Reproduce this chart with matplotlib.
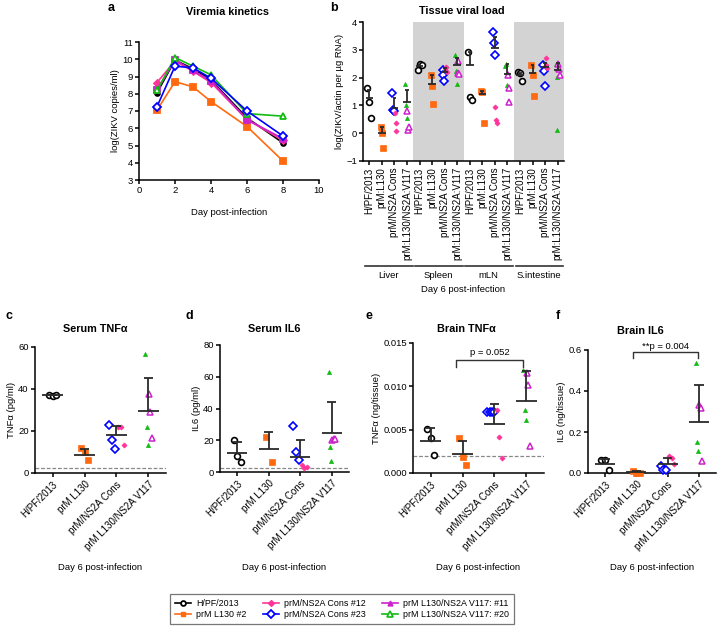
import matplotlib
matplotlib.use('Agg')
import matplotlib.pyplot as plt
import numpy as np
from matplotlib.lines import Line2D
from matplotlib.transforms import blended_transform_factory

plt.rcParams['font.family'] = ['Liberation Sans', 'DejaVu Sans']

W, H = 717, 632

# ---- panel a: viremia kinetics ----
days = [1, 2, 3, 4, 6, 8]
a_hpf = [8.05, 9.95, 9.45, 8.8, 6.6, 5.15]
a_l130 = [7.05, 8.7, 8.4, 7.55, 6.1, 4.1]
a_cons12 = [8.65, 9.9, 9.3, 8.65, 6.5, 5.3]
a_cons23 = [7.25, 9.6, 9.5, 8.9, 7.0, 5.55]
a_v11 = [8.2, 9.95, 9.35, 8.75, 6.5, 5.4]
a_v20 = [8.2, 10.1, 9.6, 9.1, 6.85, 6.7]

# ---- panel b: tissue viral load (Liver, Spleen, mLN, S.intestine) ----
tissues = ['Liver', 'Spleen', 'mLN', 'S.intestine']
b_groups = ['H/PF/2013', 'prM:L130', 'prM/NS2A Cons', 'prM:L130/NS2A:V117']
b_hpf = [[1.61, 1.12, 0.53], [2.29, 2.5, 2.45], [2.93, 1.29, 1.2], [2.21, 2.17, 1.87]]
b_l130 = [[0.22, 0.0, -0.53], [2.09, 1.69, 1.06], [1.53, 1.49, 0.35], [2.45, 2.11, 1.33]]
b_cons12 = [[0.71, 0.35, 0.08], [2.33, 2.37, 2.2], [0.95, 0.48, 0.35], [2.71, 2.47, 2.35]]
b_cons23 = [[1.45, 0.85, 0.79], [2.29, 2.11, 1.89], [3.65, 3.25, 2.81], [2.47, 2.23, 1.71]]
b_v11 = [[0.79, 0.13, 0.23], [2.59, 2.17, 2.13], [2.09, 1.61, 1.13], [2.5, 2.31, 2.11]]
b_v20 = [[1.77, 1.0, 0.55], [2.81, 2.25, 1.77], [2.41, 2.5, 1.75], [2.5, 2.01, 0.1]]
b_mean = [1.26, 0.0, 0.91, 1.13, 2.41, 1.77, 2.21, 2.45,
          2.45, 1.41, 3.07, 2.13, 2.08, 2.17, 2.37, 2.29]
b_sem = [0.3, 0.22, 0.36, 0.43, 0.05, 0.33, 0.14, 0.26,
         0.48, 0.1, 0.38, 0.36, 0.1, 0.28, 0.17, 0.22]

# ---- panels c-f: cytokines ----
groups = ['H/PF/2013', 'prM L130', 'prM/NS2A Cons', 'prM L130/NS2A V117']

c_hpf = [37.2, 36.9, 37.0]
c_l130 = [11.9, 9.8, 6.0]
c_cons12 = [21.9, 21.9, 13.5]
c_cons23 = [22.9, 15.9, 11.4]
c_v11 = [37.8, 28.9, 16.7]
c_v20 = [56.8, 21.9, 13.5]
c_mean = [37.0, 8.7, 17.9, 29.4]
c_sem = [0.3, 2.7, 4.6, 15.9]
c_lod = 2.2

d_hpf = [19.9, 10.3, 6.3]
d_l130 = [22.0, 6.3]
d_cons12 = [4.6, 2.5, 3.1]
d_cons23 = [28.9, 12.4, 7.5]
d_v11 = [19.9, 20.9, 20.5]
d_v20 = [63.2, 15.7, 7.1]
d_mean = [11.9, 14.4, 9.6, 24.5]
d_sem = [6.7, 11.0, 10.3, 19.9]
d_lod = 2.5

e_hpf = [0.0051, 0.0040, 0.0021]
e_l130 = [0.0040, 0.0019, 0.0009]
e_cons12 = [0.0073, 0.0041, 0.0017]
e_cons23 = [0.0070, 0.0070, 0.0070, 0.0070]
e_v11 = [0.0115, 0.0101, 0.0031]
e_v20 = [0.0119, 0.0073, 0.0061]
e_mean = [0.0037, 0.0022, 0.0057, 0.0083]
e_sem = [0.0015, 0.0015, 0.0023, 0.0035]
e_lod = 0.0020

f_hpf = [0.062, 0.062, 0.016]
f_l130 = [0.008, 0.0, 0.0]
f_cons12 = [0.081, 0.073, 0.045]
f_cons23 = [0.032, 0.016, 0.013]
f_v11 = [0.332, 0.316, 0.057]
f_v20 = [0.535, 0.149, 0.105]
f_mean = [0.045, 0.005, 0.045, 0.251]
f_sem = [0.023, 0.003, 0.027, 0.18]
f_lod = 0.002

legend_labels = ['H/PF/2013', 'prM L130 #2', 'prM/NS2A Cons #12',
                 'prM/NS2A Cons #23', 'prM L130/NS2A V117: #11', 'prM L130/NS2A V117: #20']

BLACK, ORANGE, PINK, BLUE, MAGENTA, GREEN = 'black', '#FF6A10', '#FF3399', '#0000FF', '#CC22CC', '#11BB11'
BAR = '#2a2a2a'

# scatter styles per strain
S_HPF = dict(marker='o', mfc='white', mec=BLACK, ms=4.2, mew=1.2)
S_L130 = dict(marker='s', mfc=ORANGE, mec=ORANGE, ms=3.8, mew=0.5)
S_C12 = dict(marker='D', mfc=PINK, mec=PINK, ms=2.6, mew=0.5)
S_C23 = dict(marker='D', mfc='white', mec=BLUE, ms=4.0, mew=1.2)
S_V11 = dict(marker='^', mfc='white', mec=MAGENTA, ms=5.0, mew=1.1)
S_V20 = dict(marker='^', mfc=GREEN, mec=GREEN, ms=3.0, mew=0.5)

fig = plt.figure(figsize=(W / 100, H / 100), dpi=100)


def add_ax(left, top, right, bottom):
    return fig.add_axes([left / W, 1 - bottom / H, (right - left) / W, (bottom - top) / H])


def style(ax):
    for s in ['top', 'right']:
        ax.spines[s].set_visible(False)
    for s in ['left', 'bottom']:
        ax.spines[s].set_linewidth(1.1)
    ax.tick_params(width=1.1, length=3, labelsize=6.8, pad=1.5)


def dots(ax, x, sets, spread=0.18):
    pts = [(v, st) for vals, st in sets for v in vals]
    offs = np.linspace(-spread, spread, len(pts)) if len(pts) > 1 else [0]
    for o, (v, st) in zip(offs, pts):
        ax.plot(x + o, v, linestyle='none', clip_on=False, zorder=3, **st)


def mean_bar(ax, x, m, s, half=0.32, cap=0.15):
    ax.hlines(m, x - half, x + half, color=BAR, lw=1.3, zorder=4)
    ax.vlines(x, m, m + s, color=BAR, lw=1.3, zorder=4)
    ax.hlines(m + s, x - cap, x + cap, color=BAR, lw=1.3, zorder=4)


def panel_letter(x, y, s):
    fig.text(x / W, 1 - y / H, s, fontsize=9, fontweight='bold', ha='left', va='center')


def title(x, y, s):
    fig.text(x / W, 1 - y / H, s, fontsize=7.8, fontweight='bold', ha='center', va='center')


# ---------------- panel a ----------------
ax = add_ax(139, 42, 319, 180)
style(ax)
for ys, c, m, mfc, ms in [(a_hpf, BLACK, 'o', BLACK, 3.5), (a_l130, ORANGE, 's', ORANGE, 4.2),
                          (a_cons12, PINK, 'D', PINK, 3.5), (a_v11, MAGENTA, 's', MAGENTA, 3.8),
                          (a_v20, GREEN, '^', 'white', 5), (a_cons23, BLUE, 'D', 'white', 4.5)]:
    ax.plot(days, ys, color=c, marker=m, mfc=mfc, mec=c, ms=ms, mew=1.3, lw=1.2)
ax.set_xlim(0, 10)
ax.set_ylim(3, 11)
ax.set_xticks([0, 2, 4, 6, 8, 10])
ax.set_yticks(range(3, 12))
ax.set_ylabel('log(ZIKV copies/ml)', fontsize=6.8, labelpad=1.5)
ax.set_xlabel('Day post-infection', fontsize=6.8, labelpad=9)
panel_letter(108, 8, 'a')
title(228, 12, 'Viremia kinetics')

# ---------------- panel b ----------------
ax = add_ax(363, 22, 564, 161)
style(ax)
ax.set_xlim(-0.5, 15.5)
ax.set_ylim(-1, 4)
for g in (1, 3):
    ax.axvspan(4 * g - 0.5, 4 * g + 3.5, color='#d3d3d3', lw=0, zorder=0)
for t in range(4):
    base = 4 * t
    dots(ax, base + 0, [(b_hpf[t], S_HPF)], 0.16)
    dots(ax, base + 1, [(b_l130[t], S_L130)], 0.1)
    dots(ax, base + 2, [(b_cons23[t], S_C23), (b_cons12[t], S_C12)], 0.16)
    dots(ax, base + 3, [(b_v20[t], S_V20), (b_v11[t], S_V11)], 0.16)
for i in range(16):
    mean_bar(ax, i, b_mean[i], b_sem[i], half=0.3, cap=0.15)
ax.set_xticks(range(16))
ax.set_xticklabels(b_groups * 4, rotation=90, fontsize=7)
ax.set_yticks(range(-1, 5))
ax.set_ylabel('log(ZIKV/actin per \u00b5g RNA)', fontsize=6.8, labelpad=1.5)
tr = blended_transform_factory(ax.transData, fig.transFigure)
for t, name in enumerate(tissues):
    ax.plot([4 * t - 0.35, 4 * t + 3.45], [1 - 266 / H] * 2, color='#333333', lw=1.2,
            transform=tr, clip_on=False)
    ax.text(4 * t + 1.5, 1 - 276 / H, name, transform=tr, ha='center', va='center', fontsize=6.8)
ax.text(7.5, 1 - 290 / H, 'Day 6 post-infection', transform=tr, ha='center', va='center', fontsize=6.8)
panel_letter(330, 8, 'b')
title(462, 11, 'Tissue viral load')

# ---------------- panels c-f ----------------
cyto = [
    ('c', 'Serum TNF\u03b1', 'TNF\u03b1 (pg/ml)', (35, 347, 166, 473), (0, 60), [0, 20, 40, 60],
     c_hpf, c_l130, c_cons12, c_cons23, c_v11, c_v20, c_mean, c_sem, c_lod, 6, 95, 329),
    ('d', 'Serum IL6', 'IL6 (pg/ml)', (220, 345, 349, 472), (0, 80), [0, 20, 40, 60, 80],
     d_hpf, d_l130, d_cons12, d_cons23, d_v11, d_v20, d_mean, d_sem, d_lod, 186, 274, 329),
    ('e', 'Brain TNF\u03b1', 'TNF\u03b1 (ng/tissue)', (413, 343, 544, 473), (0, 0.015),
     [0, 0.005, 0.010, 0.015],
     e_hpf, e_l130, e_cons12, e_cons23, e_v11, e_v20, e_mean, e_sem, e_lod, 366, 466, 329),
    ('f', 'Brain IL6', 'IL6 (ng/tissue)', (588, 350, 716, 473), (0, 0.6), [0, 0.2, 0.4, 0.6],
     f_hpf, f_l130, f_cons12, f_cons23, f_v11, f_v20, f_mean, f_sem, f_lod, 556, 640, 331),
]
cyto_axes = {}
for (let, ttl, ylab, box, ylim, yt, hpf, l130, c12, c23, v11, v20, mean, sem, lod,
     lx, tx, ty) in cyto:
    ax = add_ax(*box)
    style(ax)
    ax.set_xlim(-0.55, 3.55)
    ax.set_ylim(*ylim)
    ax.set_yticks(yt)
    if let == 'e':
        ax.set_yticklabels(['%.3f' % v for v in yt])
    elif let == 'f':
        ax.set_yticklabels(['%.1f' % v for v in yt])
    ax.axhline(lod, color='#888888', ls=(0, (3, 1.5)), lw=0.9, zorder=1)
    dots(ax, 0, [(hpf, S_HPF)], 0.12)
    dots(ax, 1, [(l130, S_L130)], 0.1)
    dots(ax, 2, [(c23, S_C23), (c12, S_C12)], 0.22)
    dots(ax, 3, [(v20, S_V20), (v11, S_V11)], 0.1)
    for i in range(4):
        mean_bar(ax, i, mean[i], sem[i])
    ax.set_xticks(range(4))
    ax.set_xticklabels(groups, rotation=45, ha='right', rotation_mode='anchor', fontsize=7)
    ax.set_ylabel(ylab, fontsize=6.8, labelpad=1.5)
    cx = (box[0] + box[2]) / 2
    fig.text(cx / W, 1 - 567 / H, 'Day 6 post-infection', ha='center', va='center', fontsize=6.8)
    panel_letter(lx, 316, let)
    title(tx, ty, ttl)
    cyto_axes[let] = ax


def bracket(ax, x0, x1, y0, y1, label, ly):
    ax.plot([x0, x0, x1, x1], [y0, y1, y1, y0], color='#333333', lw=1.0, clip_on=False,
            solid_joinstyle='round')
    ax.text((x0 + x1) / 2, ly, label, ha='center', va='center', fontsize=6.8, clip_on=False)


bracket(cyto_axes['e'], 0.8, 2.9, 0.0122, 0.0130, 'p = 0.052', 0.0139)
bracket(cyto_axes['f'], 0.88, 2.97, 0.559, 0.592, '**p = 0.004', 0.617)

# ---------------- legend ----------------
handles = [
    Line2D([0], [0], color=BLACK, marker='o', mfc='white', mec=BLACK, ms=3.5, mew=1.3, lw=1.2),
    Line2D([0], [0], color=ORANGE, marker='s', mfc=ORANGE, mec=ORANGE, ms=3.5, lw=1.2),
    Line2D([0], [0], color=PINK, marker='D', mfc=PINK, mec=PINK, ms=3, lw=1.2),
    Line2D([0], [0], color=BLUE, marker='D', mfc='white', mec=BLUE, ms=3.8, mew=1.3, lw=1.2),
    Line2D([0], [0], color=MAGENTA, marker='^', mfc=MAGENTA, mec=MAGENTA, ms=3.5, lw=1.2),
    Line2D([0], [0], color=GREEN, marker='^', mfc='white', mec=GREEN, ms=3.8, mew=1.2, lw=1.2),
]
leg = fig.legend(handles, legend_labels, loc='center', bbox_to_anchor=(342 / W, 1 - 609 / H),
                 ncol=3, fontsize=6.4, frameon=True, fancybox=False, edgecolor='#555555',
                 handlelength=1.8, columnspacing=1.8, handletextpad=0.6, borderpad=0.5,
                 labelspacing=0.3)
leg.get_frame().set_linewidth(0.9)

fig.savefig('out.png', dpi=100)
